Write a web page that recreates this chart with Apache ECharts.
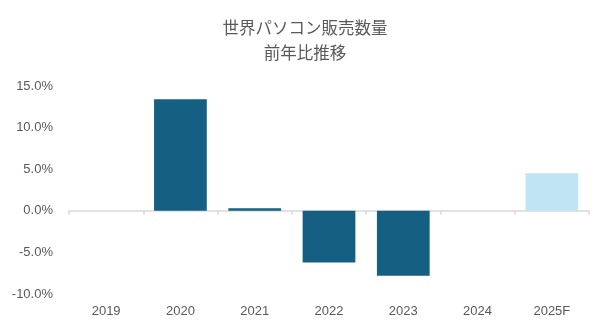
<!DOCTYPE html>
<html>
<head>
<meta charset="utf-8">
<style>
  html, body { margin: 0; padding: 0; background: #ffffff; }
  #chart { width: 610px; height: 329px; }
</style>
<script src="https://cdn.jsdelivr.net/npm/echarts@6/dist/echarts.min.js"></script>
</head>
<body>
<div id="chart"></div>
<script>
// Year-over-year change in worldwide PC shipments (%)
const years = ['2019', '2020', '2021', '2022', '2023', '2024', '2025F'];
const growth = [0, 13.4, 0.3, -6.2, -7.8, 0, 4.5];
const forecastYears = ['2025F'];
const yTicks = { min: -10, max: 15, interval: 5 };

const darkBlue = '#155F82';
const lightBlue = '#C1E4F5';
const textGray = '#595959';
const axisGray = '#D9D9D9';

const chart = echarts.init(document.getElementById('chart'), null, { renderer: 'canvas' });

chart.setOption({
  animation: false,
  backgroundColor: '#ffffff',
  title: {
    text: '世界パソコン販売数量\n前年比推移',
    left: 'center',
    top: 10,
    textStyle: {
      fontFamily: '"Noto Sans CJK JP", sans-serif',
      fontSize: 16.5,
      fontWeight: 'normal',
      color: textGray,
      lineHeight: 25
    }
  },
  grid: { left: 69, right: 21, top: 86, bottom: 35, containLabel: false },
  xAxis: [
    {
      // zero line with tick marks
      type: 'category',
      data: years,
      axisLine: { onZero: true, lineStyle: { color: axisGray, width: 1.5 } },
      axisTick: { show: true, length: 4, lineStyle: { color: axisGray, width: 1.5 } },
      axisLabel: { show: false },
      splitLine: { show: false }
    },
    {
      // year labels along the bottom edge
      type: 'category',
      data: years,
      position: 'bottom',
      axisLine: { show: false, onZero: false },
      axisTick: { show: false },
      axisLabel: {
        margin: 11,
        color: textGray,
        fontSize: 13,
        fontFamily: '"Liberation Sans", Arial, sans-serif'
      },
      splitLine: { show: false }
    }
  ],
  yAxis: {
    type: 'value',
    min: yTicks.min,
    max: yTicks.max,
    interval: yTicks.interval,
    axisLine: { show: false },
    axisTick: { show: false },
    splitLine: { show: false },
    axisLabel: {
      margin: 16,
      color: textGray,
      fontSize: 13,
      fontFamily: '"Liberation Sans", Arial, sans-serif',
      formatter: v => v.toFixed(1) + '%'
    }
  },
  series: [
    {
      type: 'bar',
      xAxisIndex: 0,
      barCategoryGap: '29%',
      data: years.map((y, i) => ({
        value: growth[i],
        itemStyle: { color: forecastYears.includes(y) ? lightBlue : darkBlue }
      }))
    }
  ]
});
</script>
</body>
</html>
